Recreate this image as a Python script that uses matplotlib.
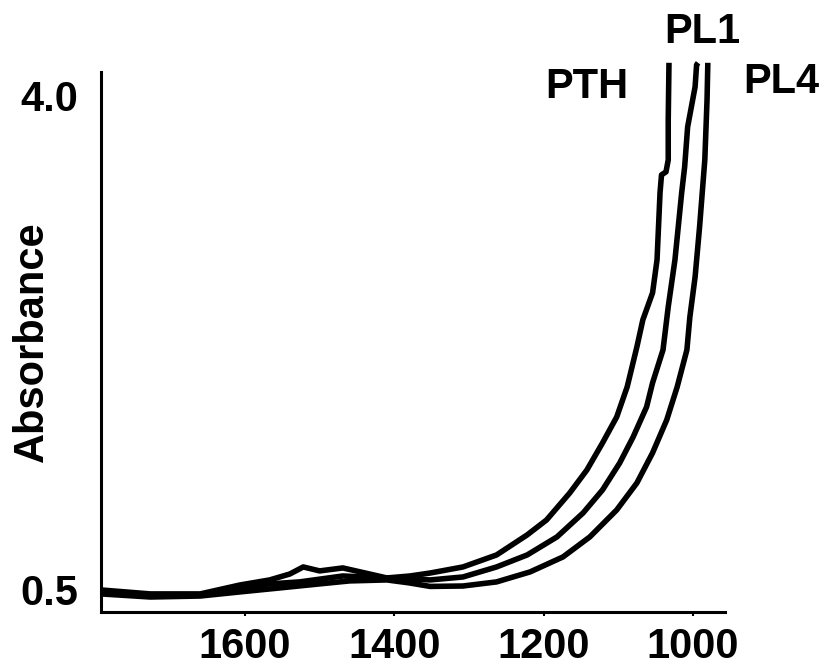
import matplotlib
matplotlib.use("Agg")
import matplotlib.pyplot as plt

plt.rcParams["font.family"] = ["Liberation Sans", "DejaVu Sans"]
plt.rcParams["font.weight"] = "bold"

# wavenumber (cm-1) / absorbance
pth_x = [1793, 1727, 1660, 1607, 1567, 1540, 1522, 1500, 1469, 1439, 1410, 1379,
         1352, 1308, 1263, 1222, 1196, 1165, 1142, 1121, 1102, 1088, 1075, 1067,
         1054, 1048, 1044, 1042, 1036, 1033, 1033, 1032]
pth_y = [0.500, 0.472, 0.472, 0.535, 0.571, 0.613, 0.663, 0.635, 0.656, 0.620,
         0.585, 0.599, 0.620, 0.663, 0.748, 0.890, 0.996, 1.187, 1.350, 1.542,
         1.726, 1.939, 2.222, 2.414, 2.605, 2.839, 3.314, 3.441, 3.462, 3.547,
         3.831, 4.235]

pl1_x = [1793, 1727, 1660, 1607, 1567, 1527, 1469, 1410, 1379, 1352, 1308, 1263,
         1222, 1182, 1147, 1121, 1098, 1080, 1062, 1054, 1040, 1033, 1024, 1015,
         1011, 1007, 1001, 997, 995, 993]
pl1_y = [0.486, 0.465, 0.465, 0.514, 0.543, 0.557, 0.599, 0.585, 0.578, 0.571,
         0.592, 0.663, 0.748, 0.876, 1.046, 1.209, 1.400, 1.584, 1.797, 1.967,
         2.201, 2.506, 2.839, 3.314, 3.498, 3.781, 3.951, 4.065, 4.221, 4.235]

pl4_x = [1793, 1727, 1660, 1607, 1554, 1500, 1460, 1410, 1380, 1352, 1308, 1263,
         1218, 1174, 1138, 1102, 1075, 1054, 1035, 1021, 1008, 1004, 997, 991, 984,
         981, 980, 980]
pl4_y = [0.472, 0.450, 0.457, 0.486, 0.514, 0.543, 0.564, 0.571, 0.550, 0.525,
         0.528, 0.557, 0.628, 0.734, 0.876, 1.067, 1.258, 1.471, 1.705, 1.939,
         2.201, 2.435, 2.718, 3.073, 3.547, 3.973, 4.221, 4.235]

series = [("PTH", pth_x, pth_y), ("PL1", pl1_x, pl1_y), ("PL4", pl4_x, pl4_y)]
label_pos = {"PTH": (1142, 4.06), "PL1": (988, 4.455), "PL4": (882, 4.10)}

fig = plt.figure(figsize=(8.29, 6.67), dpi=100)
ax = fig.add_axes([0.1218, 0.0825, 0.7527, 0.8096])

for name, xs, ys in series:
    ax.plot(xs, ys, color="black", lw=4.0, solid_capstyle="butt",
            solid_joinstyle="round", clip_on=False)
    lx, ly = label_pos[name]
    ax.text(lx, ly, name, fontsize=30, fontweight="bold", ha="center", va="center",
            clip_on=False)

ax.set_xlim(1793, 957)
ax.set_ylim(0.344, 4.17)
ax.set_xticks([1600, 1400, 1200, 1000])
ax.set_yticks([0.5, 4.0])
ax.set_yticklabels(["0.5", "4.0"])
ax.tick_params(axis="x", length=3, width=1.5, pad=8, labelsize=30)
ax.tick_params(axis="y", length=0, pad=16, labelsize=30)
for lab in ax.get_xticklabels() + ax.get_yticklabels():
    lab.set_fontweight("bold")

ax.spines["top"].set_visible(False)
ax.spines["right"].set_visible(False)
ax.spines["left"].set_linewidth(2.2)
ax.spines["bottom"].set_linewidth(2.2)

ax.set_ylabel("Absorbance", fontsize=30, fontweight="bold")
ax.yaxis.set_label_coords(-0.078, 0.5)

fig.savefig("out.png", dpi=100)
